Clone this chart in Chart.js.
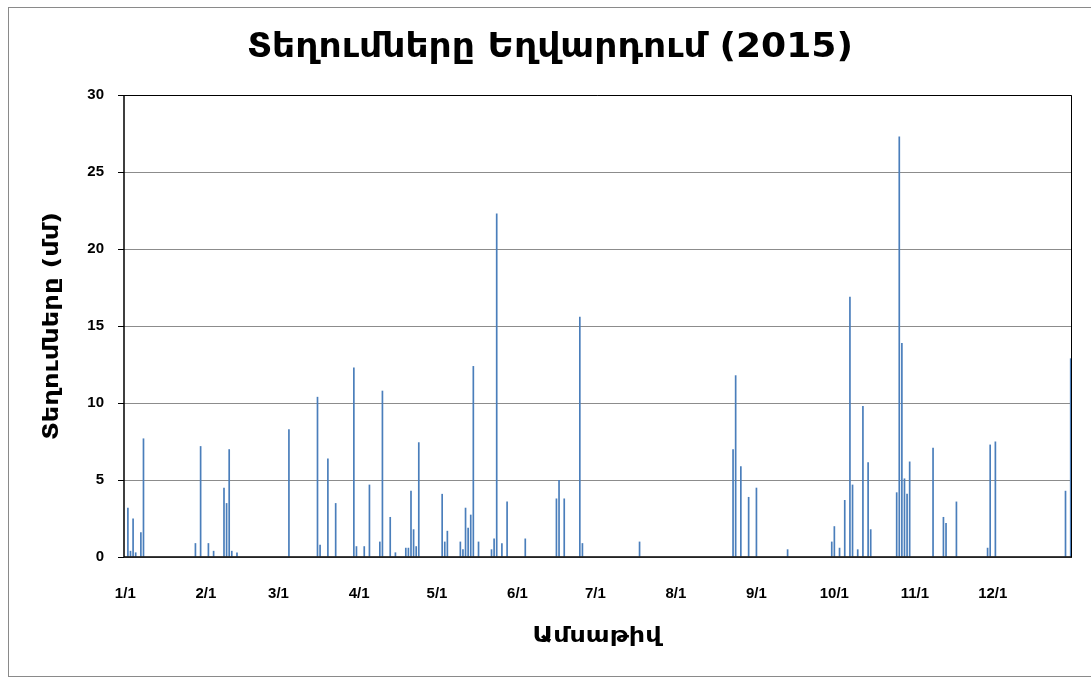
<!DOCTYPE html>
<html>
<head>
<meta charset="utf-8">
<script src="https://cdn.jsdelivr.net/npm/chart.js@4.4.1/dist/chart.umd.min.js"></script>
<style>
  html, body { margin: 0; padding: 0; background: #ffffff; }
  #wrap { width: 1091px; height: 679px; position: relative; }
</style>
</head>
<body>
<div id="wrap"><canvas id="c" width="1091" height="679"></canvas></div>
<script>
const chartTitle = 'Տեղումները Եղվարդում (2015)';
const yAxisTitle = 'Տեղումները (մմ)';
const xAxisTitle = 'Ամսաթիվ';

const monthLengths = [31, 28, 31, 30, 31, 30, 31, 31, 30, 31, 30, 31];
const monthTickLabels = ['1/1', '2/1', '3/1', '4/1', '5/1', '6/1', '7/1', '8/1', '9/1', '10/1', '11/1', '12/1'];
const yTicks = [0, 5, 10, 15, 20, 25, 30];

// Rainy days (M/D) and rainfall in mm
const rainDates = [
  '1/2', '1/3', '1/4', '1/5', '1/7', '1/8', '1/28', '1/30',
  '2/2', '2/4', '2/8', '2/9', '2/10', '2/11', '2/13',
  '3/5', '3/16', '3/17', '3/20', '3/23', '3/30', '3/31',
  '4/3', '4/5', '4/9', '4/10', '4/13', '4/15', '4/19', '4/20', '4/21', '4/22', '4/23', '4/24',
  '5/3', '5/4', '5/5', '5/10', '5/11', '5/12', '5/13', '5/14', '5/15', '5/17', '5/22', '5/23', '5/24', '5/26', '5/28',
  '6/4', '6/16', '6/17', '6/19', '6/25', '6/26',
  '7/18',
  '8/23', '8/24', '8/26', '8/29',
  '9/1', '9/13', '9/30',
  '10/1', '10/3', '10/5', '10/7', '10/8', '10/10', '10/12', '10/14', '10/15', '10/25', '10/26', '10/27', '10/28', '10/29', '10/30',
  '11/8', '11/12', '11/13', '11/17', '11/29', '11/30',
  '12/2', '12/29', '12/31'
];
const rainValues = [
  3.2, 0.4, 2.5, 0.3, 1.6, 7.7, 0.9, 7.2,
  0.9, 0.4, 4.5, 3.5, 7.0, 0.4, 0.3,
  8.3, 10.4, 0.8, 6.4, 3.5, 12.3, 0.7,
  0.7, 4.7, 1.0, 10.8, 2.6, 0.3, 0.6, 0.6, 4.3, 1.8, 0.7, 7.45,
  4.1, 1.0, 1.7, 1.0, 0.5, 3.2, 1.9, 2.75, 12.4, 1.0, 0.5, 1.2, 22.3, 0.9, 3.6,
  1.2, 3.8, 5.0, 3.8, 15.6, 0.9,
  1.0,
  7.0, 11.8, 5.9, 3.9,
  4.5, 0.5, 1.0,
  2.0, 0.6, 3.7, 16.9, 4.7, 0.5, 9.8, 6.15, 1.8, 4.2, 27.3, 13.9, 5.1, 4.1, 6.2,
  7.1, 2.6, 2.2, 3.6, 0.6, 7.3,
  7.5, 4.3, 12.9
];

// Build the 365 daily categories
const dayLabels = [];
monthLengths.forEach((len, m) => {
  for (let d = 1; d <= len; d++) dayLabels.push((m + 1) + '/' + d);
});
const rainByDate = {};
rainDates.forEach((dt, i) => { rainByDate[dt] = rainValues[i]; });
const dailyRain = dayLabels.map(l => (l in rainByDate ? rainByDate[l] : 0));

const FONT = "'Liberation Sans', 'DejaVu Sans', Arial, sans-serif";
const ARM_FONT = "'DejaVu Sans', 'Noto Sans', sans-serif";

function drawFitted(ctx, text, cx, cy, font, targetW, angle) {
  ctx.save();
  ctx.font = font;
  ctx.fillStyle = '#000';
  ctx.textAlign = 'center';
  ctx.textBaseline = 'middle';
  const w = ctx.measureText(text).width;
  const sx = targetW / w;
  ctx.translate(cx, cy);
  if (angle) ctx.rotate(angle);
  ctx.scale(sx, 1);
  ctx.fillText(text, 0, 0);
  ctx.restore();
}

const decor = {
  id: 'decor',
  beforeDraw(chart) {
    const ctx = chart.ctx;
    ctx.save();
    ctx.fillStyle = '#fff';
    ctx.fillRect(0, 0, chart.width, chart.height);
    ctx.strokeStyle = '#8a8a8a';
    ctx.lineWidth = 1;
    ctx.strokeRect(8.5, 7.5, 1100, 669);
    ctx.restore();
  },
  afterDraw(chart) {
    const ctx = chart.ctx;
    const a = chart.chartArea;
    ctx.save();
    ctx.strokeStyle = '#000';
    ctx.lineWidth = 1;
    ctx.beginPath();
    ctx.moveTo(a.left, a.top + 0.5);
    ctx.lineTo(a.right - 0.5, a.top + 0.5);
    ctx.lineTo(a.right - 0.5, a.bottom);
    ctx.stroke();
    ctx.lineWidth = 1.5;
    ctx.beginPath();
    ctx.moveTo(a.left, a.top);
    ctx.lineTo(a.left, a.bottom);
    ctx.lineTo(a.right, a.bottom);
    ctx.stroke();
    ctx.restore();
    drawFitted(ctx, chartTitle, 550, 48, 'bold 34px ' + ARM_FONT, 606, 0);
    drawFitted(ctx, xAxisTitle, 597, 636, 'bold 22px ' + ARM_FONT, 129, 0);
    drawFitted(ctx, yAxisTitle, 52, 326, 'bold 22px ' + ARM_FONT, 228, -Math.PI / 2);
  }
};

new Chart(document.getElementById('c'), {
  type: 'bar',
  data: {
    labels: dayLabels,
    datasets: [{
      data: dailyRain,
      backgroundColor: '#4a7ebb',
      borderWidth: 0,
      barPercentage: 0.65,
      categoryPercentage: 1.0
    }]
  },
  options: {
    responsive: false,
    animation: false,
    devicePixelRatio: 1,
    layout: { padding: { left: 0, right: 19, top: 95, bottom: 0 } },
    plugins: {
      legend: { display: false },
      title: { display: false },
      tooltip: { enabled: false }
    },
    scales: {
      x: {
        type: 'category',
        offset: true,
        grid: { display: false, drawTicks: false },
        border: { display: false },
        ticks: {
          autoSkip: false,
          maxRotation: 0,
          minRotation: 0,
          padding: 28,
          color: '#000',
          font: { family: FONT, size: 15, weight: 'bold' },
          callback: function (val, idx) {
            const l = dayLabels[idx];
            return monthTickLabels.includes(l) ? l : '';
          }
        },
        afterFit(scale) {
          scale.height = 122;
          scale.paddingLeft = 0;
          scale.paddingRight = 0;
        }
      },
      y: {
        min: 0,
        max: 30,
        afterBuildTicks(scale) { scale.ticks = yTicks.map(v => ({ value: v })); },
        grid: {
          color: '#8c8c8c',
          lineWidth: 1,
          tickLength: 6,
          tickColor: '#000',
          drawTicks: true
        },
        border: { display: false },
        ticks: {
          padding: 14,
          color: '#000',
          font: { family: FONT, size: 15, weight: 'bold' }
        },
        afterFit(scale) { scale.width = 124; }
      }
    }
  },
  plugins: [decor]
});
</script>
</body>
</html>
